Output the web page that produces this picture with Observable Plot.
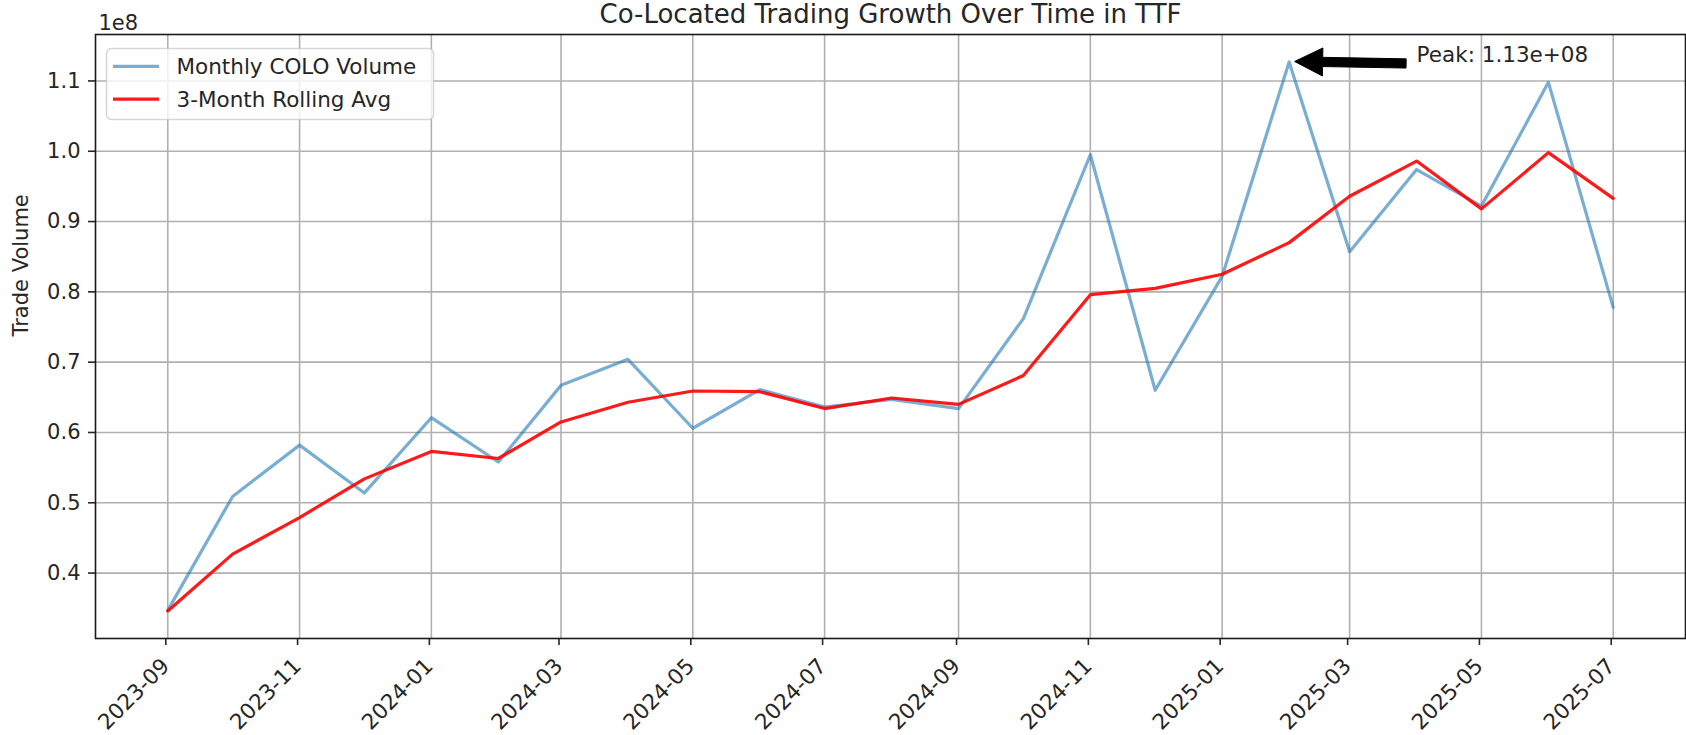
<!DOCTYPE html>
<html>
<head>
<meta charset="utf-8">
<script src="https://cdn.jsdelivr.net/npm/d3@7"></script>
<script src="https://cdn.jsdelivr.net/npm/@observablehq/plot@0.6"></script>
<style>
  html, body { margin: 0; padding: 0; background: #ffffff; }
  #chart svg { display: block; }
</style>
</head>
<body>
<div id="chart"></div>
<script>
// ---- data ----
const months = ["2023-09","2023-10","2023-11","2023-12","2024-01","2024-02","2024-03","2024-04",
  "2024-05","2024-06","2024-07","2024-08","2024-09","2024-10","2024-11","2024-12",
  "2025-01","2025-02","2025-03","2025-04","2025-05","2025-06","2025-07"];
const monthlyVolume = [0.347e8, 0.509e8, 0.582e8, 0.514e8, 0.621e8, 0.558e8, 0.667e8, 0.704e8,
  0.606e8, 0.661e8, 0.636e8, 0.647e8, 0.634e8, 0.762e8, 0.995e8, 0.660e8,
  0.822e8, 1.127e8, 0.857e8, 0.974e8, 0.922e8, 1.098e8, 0.778e8];
const rollingAvg = [0.346e8, 0.427e8, 0.479e8, 0.534e8, 0.573e8, 0.563e8, 0.615e8, 0.643e8,
  0.659e8, 0.658e8, 0.634e8, 0.649e8, 0.640e8, 0.681e8, 0.796e8, 0.805e8,
  0.825e8, 0.870e8, 0.936e8, 0.986e8, 0.918e8, 0.998e8, 0.933e8];
const seriesNames = ["Monthly COLO Volume", "3-Month Rolling Avg"];
const xTickLabels = ["2023-09","2023-11","2024-01","2024-03","2024-05","2024-07",
  "2024-09","2024-11","2025-01","2025-03","2025-05","2025-07"];
const yTickValues = [0.4e8, 0.5e8, 0.6e8, 0.7e8, 0.8e8, 0.9e8, 1.0e8, 1.1e8];
const yTickLabels = ["0.4","0.5","0.6","0.7","0.8","0.9","1.0","1.1"];
const titleText = "Co-Located Trading Growth Over Time in TTF";
const yLabelText = "Trade Volume";
const offsetText = "1e8";
const peakMonth = "2025-02";
const peakTextMonth = "2025-04";
const peakLabel = "Peak: 1.13e+08";

// ---- build ----
const parse = s => new Date(s + "-01T00:00:00Z");
const monthlyRows = months.map((m, i) => ({date: parse(m), value: monthlyVolume[i]}));
const rollingRows = months.map((m, i) => ({date: parse(m), value: rollingAvg[i]}));
const xTicks = xTickLabels.map(parse);
const peakDate = parse(peakMonth);
const peakValue = monthlyVolume[months.indexOf(peakMonth)];
const peakTextDate = parse(peakTextMonth);

const t0 = parse(months[0]).getTime(), t1 = parse(months[months.length - 1]).getTime();
const xPad = (t1 - t0) * 0.05;
const allVals = monthlyVolume.concat(rollingAvg);
const vMin = d3.min(allVals), vMax = d3.max(allVals);
const yPad = (vMax - vMin) * 0.05;

const FONT = "DejaVu Sans, sans-serif";
const INK = "#262626";

const chart = Plot.plot({
  width: 1686,
  height: 735,
  marginLeft: 95,
  marginRight: 1,
  marginTop: 34,
  marginBottom: 97,
  style: {fontFamily: FONT, fontSize: "21px", color: INK, background: "#ffffff", overflow: "visible"},
  x: {type: "utc", domain: [new Date(t0 - xPad), new Date(t1 + xPad)]},
  y: {domain: [vMin - yPad, vMax + yPad]},
  marks: [
    Plot.gridX(xTicks, {stroke: "#b0b0b0", strokeOpacity: 1, strokeWidth: 1.6}),
    Plot.gridY(yTickValues, {stroke: "#b0b0b0", strokeOpacity: 1, strokeWidth: 1.6}),
    Plot.axisX({ticks: xTicks, tickFormat: d => xTickLabels[xTicks.findIndex(t => +t === +d)],
      tickRotate: -45, tickSize: 7, tickPadding: 17, dx: -2, label: null, strokeWidth: 1.6, fontSize: 21.5}),
    Plot.axisY({ticks: yTickValues, tickFormat: d => yTickLabels[yTickValues.indexOf(d)],
      tickSize: 7, tickPadding: 8, label: null, strokeWidth: 1.6}),
    Plot.lineY(monthlyRows, {x: "date", y: "value", stroke: "#1f77b4", strokeOpacity: 0.6, strokeWidth: 3.2}),
    Plot.lineY(rollingRows, {x: "date", y: "value", stroke: "red", strokeOpacity: 0.9, strokeWidth: 3.2}),
    Plot.frame({stroke: "#1a1a1a", strokeWidth: 1.6}),
    Plot.text([titleText], {text: d => d, frameAnchor: "top", lineAnchor: "bottom", dy: -12, fontSize: 26, fill: INK}),
    Plot.text([offsetText], {text: d => d, frameAnchor: "top-left", textAnchor: "start", lineAnchor: "bottom", dx: 3, dy: -5, fill: INK}),
    Plot.text([yLabelText], {text: d => d, frameAnchor: "left", rotate: -90, dx: -74, fill: INK}),
    Plot.text([{date: peakTextDate, value: peakValue, label: peakLabel}],
      {x: "date", y: "value", text: "label", textAnchor: "start", lineAnchor: "bottom", fontSize: 21.5, fill: INK})
  ]
});

document.getElementById("chart").appendChild(chart);

// ---- annotation arrow (positions from the chart's own scales) ----
const sx = chart.scale("x"), sy = chart.scale("y");
const svg = d3.select(chart);
{
  const px = sx.apply(peakDate), py = sy.apply(peakValue);
  const tx = sx.apply(peakTextDate);
  const tip = [px + 6, py];
  const tail = [tx - 10, py + 2];
  const L = Math.hypot(tail[0] - tip[0], tail[1] - tip[1]);
  const ux = (tail[0] - tip[0]) / L, uy = (tail[1] - tip[1]) / L;
  const nx = -uy, ny = ux;
  const HL = 28, HW = 14, BW = 4.6;
  const b = [tip[0] + ux * HL, tip[1] + uy * HL];
  const pts = [
    tip,
    [b[0] + nx * HW, b[1] + ny * HW],
    [b[0] + nx * BW, b[1] + ny * BW],
    [tail[0] + nx * BW, tail[1] + ny * BW],
    [tail[0] - nx * BW, tail[1] - ny * BW],
    [b[0] - nx * BW, b[1] - ny * BW],
    [b[0] - nx * HW, b[1] - ny * HW]
  ];
  svg.append("polygon")
    .attr("points", pts.map(p => p.join(",")).join(" "))
    .attr("fill", "#000").attr("stroke", "#000").attr("stroke-width", 1);
}

// ---- legend ----
{
  const g = svg.append("g").attr("font-family", FONT).attr("font-size", 21.5).attr("text-anchor", "start");
  g.append("rect").attr("x", 106.5).attr("y", 48.5).attr("width", 327).attr("height", 71)
    .attr("rx", 5).attr("fill", "#ffffff").attr("fill-opacity", 0.8)
    .attr("stroke", "#cccccc").attr("stroke-opacity", 0.8).attr("stroke-width", 1.5);
  const items = [
    {name: seriesNames[0], color: "#1f77b4", opacity: 0.6, y: 66.3},
    {name: seriesNames[1], color: "red", opacity: 0.9, y: 99.2}
  ];
  for (const it of items) {
    g.append("line").attr("x1", 113).attr("x2", 159).attr("y1", it.y).attr("y2", it.y)
      .attr("stroke", it.color).attr("stroke-opacity", it.opacity).attr("stroke-width", 3.2);
    g.append("text").attr("x", 176.5).attr("y", it.y + 8).attr("fill", INK)
      .attr("text-anchor", "start").text(it.name);
  }
}
</script>
</body>
</html>
